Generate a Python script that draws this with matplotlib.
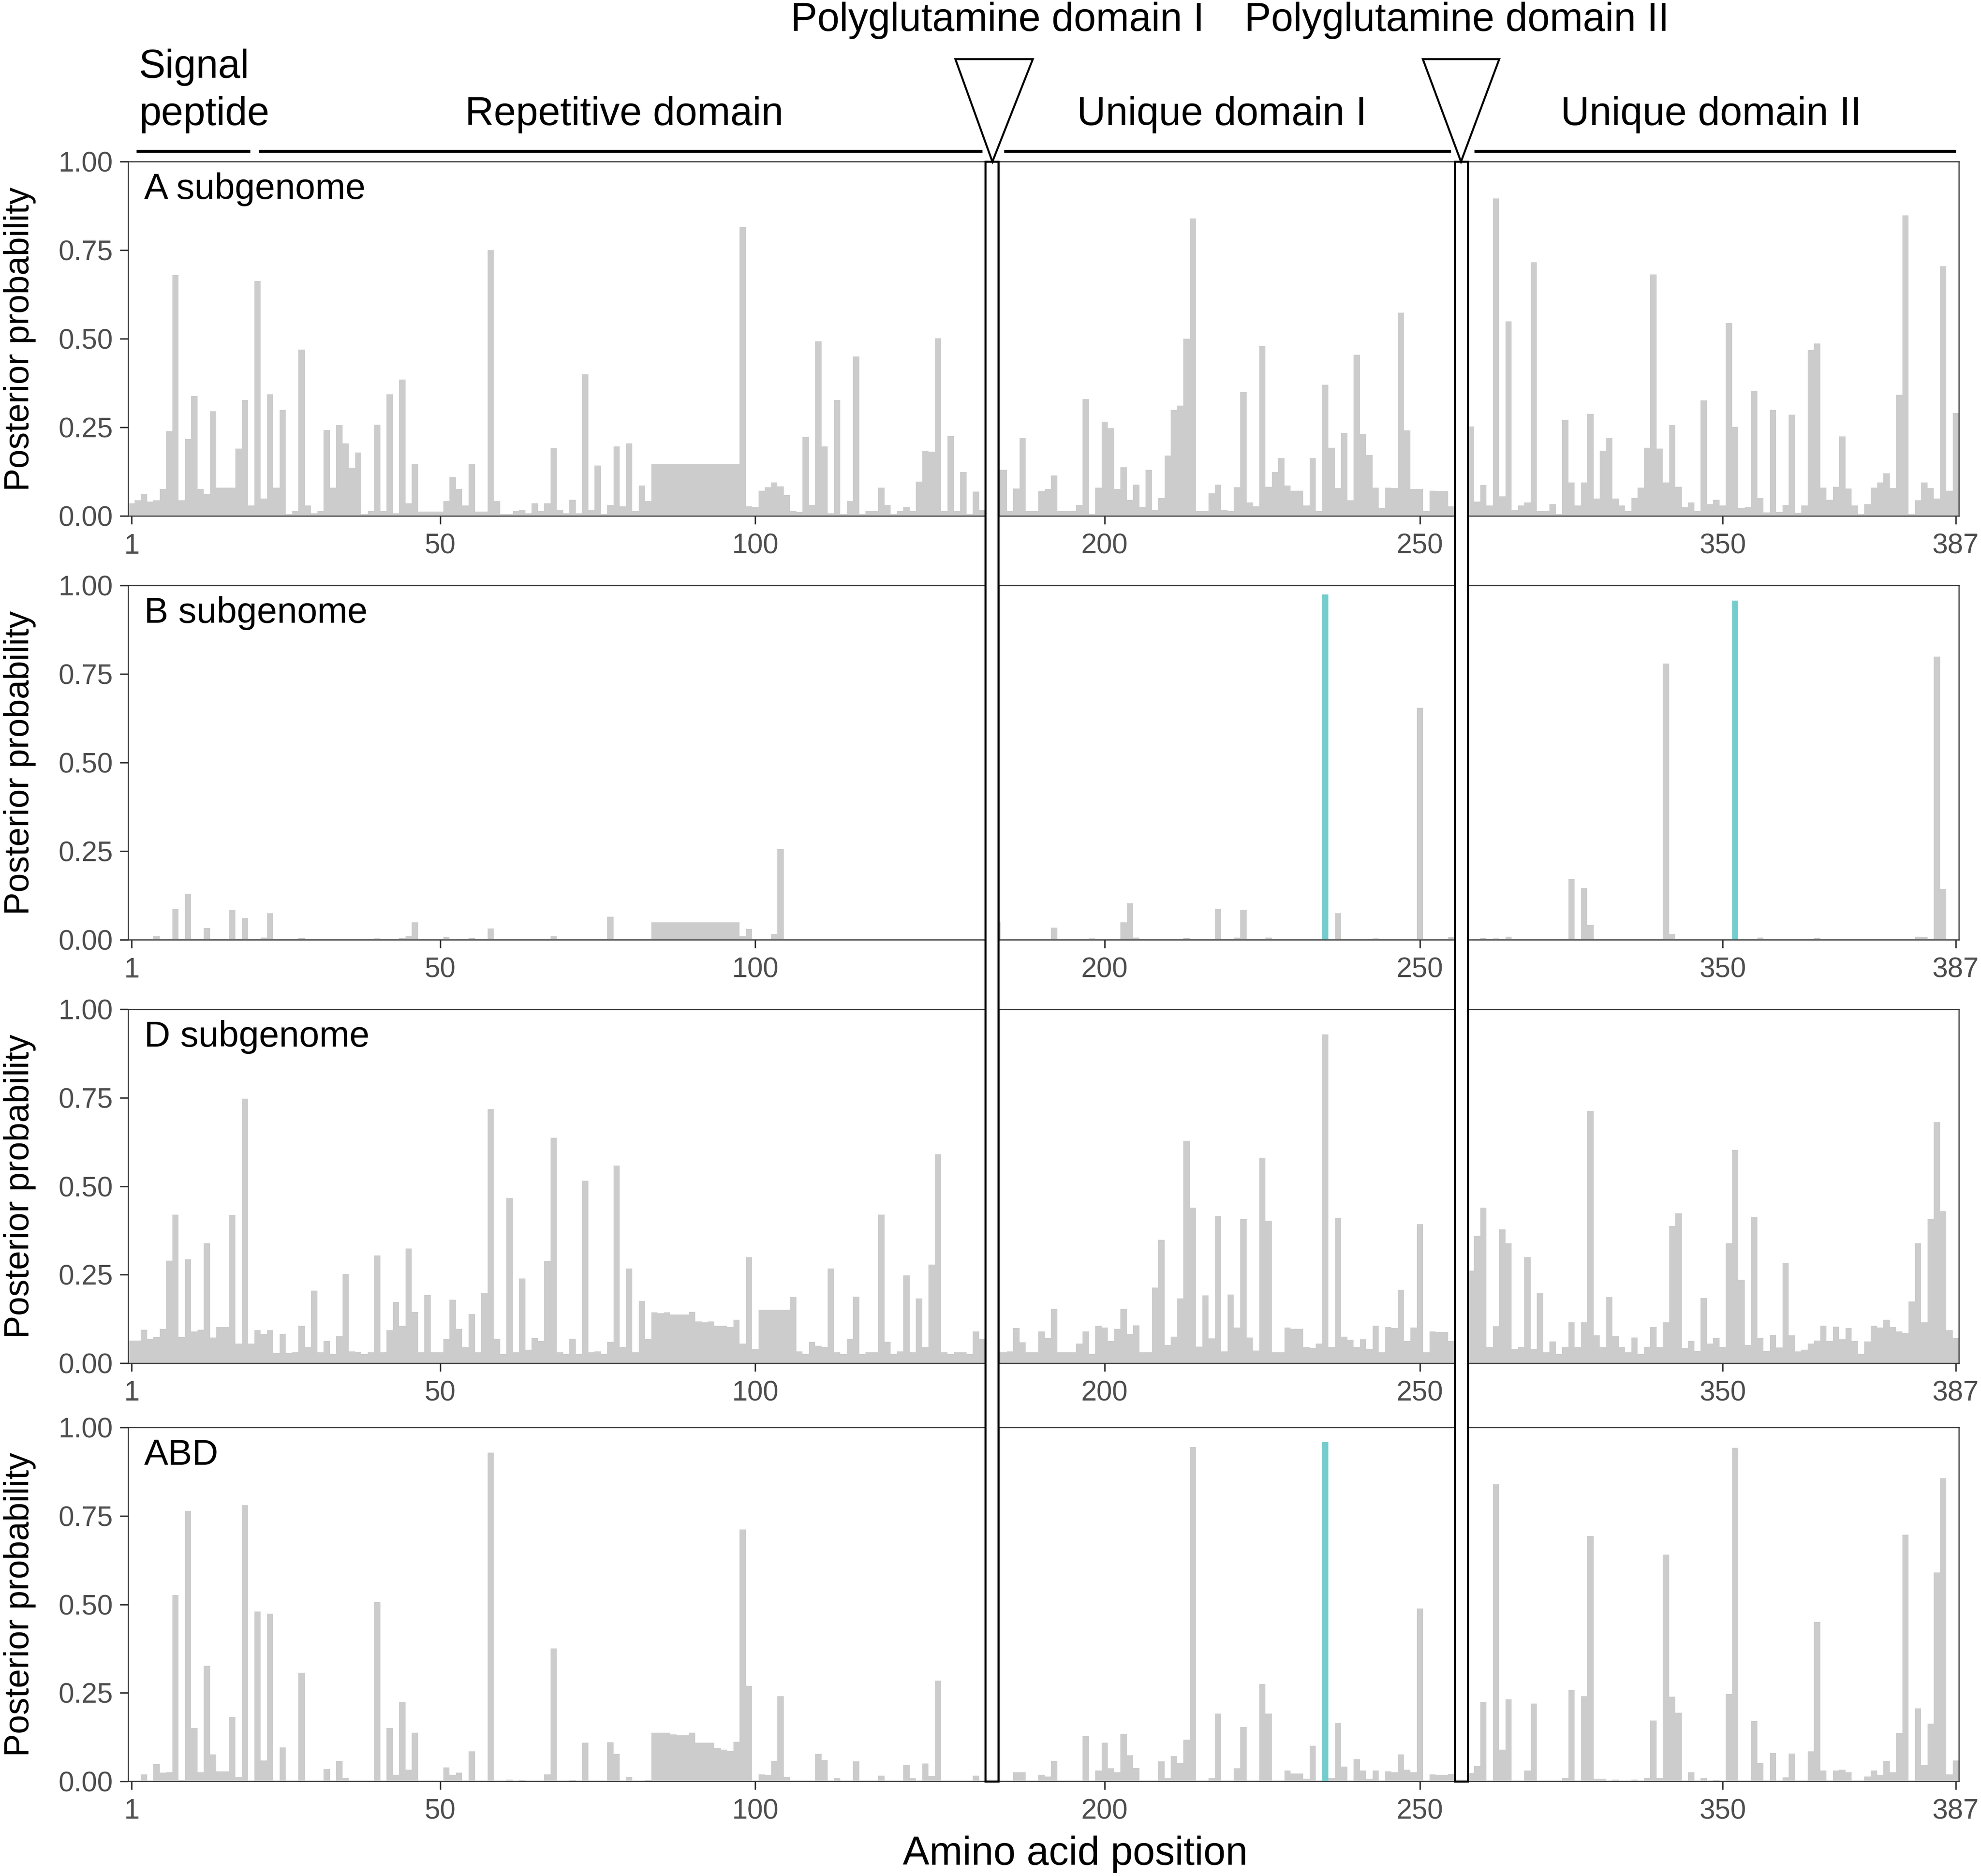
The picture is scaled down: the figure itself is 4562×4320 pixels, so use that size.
import matplotlib
matplotlib.use('Agg')
import matplotlib.pyplot as plt
from matplotlib.patches import Rectangle, Polygon
from matplotlib.lines import Line2D

plt.rcParams['font.family'] = ['Liberation Sans', 'DejaVu Sans']

# amino acid positions shown in the three segments (the polyQ stretches are cut out)
pos_rep = list(range(1, 137))
pos_u1 = list(range(183, 256))
pos_u2 = list(range(310, 388))

# posterior probabilities, A subgenome
a_rep = [0.036, 0.045, 0.062, 0.041, 0.045, 0.077, 0.24, 0.68, 0.045, 0.217,
         0.339, 0.077, 0.062, 0.296, 0.08, 0.08, 0.08, 0.19, 0.328, 0.03,
         0.664, 0.05, 0.343, 0.08, 0.30, 0.005, 0.014, 0.47, 0.03, 0.008,
         0.014, 0.243, 0.08, 0.256, 0.205, 0.136, 0.179, 0.005, 0.014, 0.258,
         0.014, 0.343, 0.008, 0.385, 0.036, 0.147, 0.013, 0.013, 0.013, 0.013,
         0.042, 0.11, 0.076, 0.03, 0.147, 0.013, 0.013, 0.75, 0.042, 0.005,
         0.005, 0.014, 0.018, 0.008, 0.036, 0.014, 0.036, 0.192, 0.018, 0.008,
         0.046, 0.008, 0.40, 0.018, 0.143, 0.005, 0.031, 0.197, 0.028, 0.205,
         0.014, 0.086, 0.042, 0.147, 0.147, 0.147, 0.147, 0.147, 0.147, 0.147,
         0.147, 0.147, 0.147, 0.147, 0.147, 0.147, 0.147, 0.816, 0.028, 0.025,
         0.072, 0.081, 0.095, 0.084, 0.059, 0.014, 0.012, 0.224, 0.031, 0.493,
         0.197, 0.008, 0.328, 0.005, 0.042, 0.45, 0.005, 0.014, 0.014, 0.08,
         0.031, 0.005, 0.014, 0.025, 0.014, 0.097, 0.184, 0.182, 0.502, 0.014,
         0.226, 0.014, 0.124, 0.005, 0.069, 0.018]
a_u1 = [0.13,
        0.13, 0.014, 0.078, 0.22, 0.014, 0.014, 0.07, 0.077, 0.115, 0.014,
        0.014, 0.014, 0.031, 0.33, 0.005, 0.08, 0.266, 0.248, 0.077, 0.138,
        0.046, 0.089, 0.026, 0.13, 0.018, 0.051, 0.171, 0.30, 0.312, 0.50,
        0.84, 0.014, 0.014, 0.064, 0.089, 0.018, 0.014, 0.081, 0.35, 0.039,
        0.028, 0.48, 0.082, 0.124, 0.164, 0.086, 0.072, 0.072, 0.03, 0.164,
        0.014, 0.37, 0.193, 0.079, 0.234, 0.045, 0.455, 0.232, 0.172, 0.08,
        0.023, 0.08, 0.079, 0.574, 0.242, 0.077, 0.076, 0.014, 0.072, 0.07,
        0.07, 0.028]
a_u2 = [0.253, 0.041, 0.088, 0.03, 0.896, 0.056, 0.549, 0.018, 0.03, 0.038,
        0.716, 0.014, 0.014, 0.033, 0.005, 0.271, 0.095, 0.03, 0.095, 0.288,
        0.049, 0.183, 0.22, 0.049, 0.03, 0.014, 0.051, 0.08, 0.193, 0.682,
        0.19, 0.095, 0.257, 0.082, 0.025, 0.038, 0.014, 0.326, 0.033, 0.046,
        0.03, 0.544, 0.252, 0.022, 0.026, 0.353, 0.051, 0.01, 0.30, 0.012,
        0.031, 0.286, 0.009, 0.03, 0.468, 0.487, 0.08, 0.046, 0.082, 0.225,
        0.078, 0.03, 0.005, 0.033, 0.08, 0.095, 0.12, 0.079, 0.342, 0.849,
        0.005, 0.044, 0.095, 0.079, 0.049, 0.705, 0.072, 0.291]

# B subgenome
b_rep = [0.003, 0.003, 0.003, 0.003, 0.011, 0.003, 0.003, 0.087, 0.003, 0.13,
         0.003, 0.003, 0.033, 0.003, 0.003, 0.003, 0.085, 0.003, 0.062, 0.003,
         0.003, 0.006, 0.075, 0.003, 0.003, 0.003, 0.003, 0.005, 0.003, 0.003,
         0.003, 0.003, 0.003, 0.003, 0.003, 0.003, 0.003, 0.003, 0.003, 0.004,
         0.003, 0.003, 0.003, 0.005, 0.01, 0.05, 0.003, 0.003, 0.003, 0.003,
         0.008, 0.003, 0.003, 0.003, 0.005, 0.003, 0.003, 0.032, 0.003, 0.003,
         0.003, 0.003, 0.003, 0.003, 0.003, 0.003, 0.003, 0.01, 0.003, 0.003,
         0.003, 0.003, 0.003, 0.003, 0.003, 0.003, 0.065, 0.003, 0.003, 0.003,
         0.003, 0.003, 0.003, 0.05, 0.05, 0.05, 0.05, 0.05, 0.05, 0.05,
         0.05, 0.05, 0.05, 0.05, 0.05, 0.05, 0.05, 0.01, 0.031, 0.003,
         0.003, 0.003, 0.016, 0.256, 0.003, 0.003, 0.003, 0.003, 0.003, 0.003,
         0.003, 0.003, 0.003, 0.003, 0.003, 0.003, 0.003, 0.003, 0.003, 0.003,
         0.003, 0.003, 0.003, 0.003, 0.003, 0.003, 0.003, 0.003, 0.003, 0.003,
         0.003, 0.003, 0.003, 0.003, 0.003, 0.003]
b_u1 = [0.05,
        0.003, 0.003, 0.003, 0.003, 0.003, 0.003, 0.003, 0.003, 0.035, 0.003,
        0.003, 0.003, 0.003, 0.003, 0.004, 0.003, 0.003, 0.003, 0.003, 0.05,
        0.103, 0.006, 0.003, 0.003, 0.003, 0.003, 0.003, 0.003, 0.003, 0.005,
        0.003, 0.003, 0.003, 0.003, 0.087, 0.003, 0.003, 0.007, 0.085, 0.003,
        0.003, 0.003, 0.006, 0.003, 0.003, 0.003, 0.003, 0.003, 0.003, 0.003,
        0.003, 0.975, 0.003, 0.075, 0.003, 0.003, 0.003, 0.003, 0.003, 0.004,
        0.003, 0.003, 0.003, 0.003, 0.003, 0.003, 0.655, 0.003, 0.003, 0.003,
        0.003, 0.008]
b_u2 = [0.003, 0.003, 0.005, 0.003, 0.004, 0.003, 0.009, 0.003, 0.003, 0.003,
        0.003, 0.003, 0.003, 0.003, 0.003, 0.003, 0.172, 0.003, 0.146, 0.042,
        0.003, 0.003, 0.003, 0.003, 0.003, 0.003, 0.003, 0.003, 0.003, 0.003,
        0.003, 0.78, 0.016, 0.003, 0.003, 0.003, 0.003, 0.003, 0.003, 0.003,
        0.003, 0.003, 0.958, 0.003, 0.003, 0.003, 0.006, 0.003, 0.003, 0.003,
        0.003, 0.003, 0.003, 0.003, 0.003, 0.005, 0.003, 0.003, 0.003, 0.003,
        0.003, 0.003, 0.003, 0.003, 0.003, 0.003, 0.003, 0.003, 0.003, 0.003,
        0.003, 0.009, 0.008, 0.003, 0.80, 0.144, 0.003, 0.003]

# D subgenome
d_rep = [0.064, 0.064, 0.095, 0.069, 0.074, 0.097, 0.29, 0.42, 0.074, 0.293,
         0.089, 0.094, 0.339, 0.072, 0.102, 0.102, 0.418, 0.055, 0.747, 0.055,
         0.093, 0.082, 0.093, 0.028, 0.082, 0.028, 0.03, 0.105, 0.045, 0.205,
         0.03, 0.063, 0.026, 0.076, 0.251, 0.033, 0.032, 0.026, 0.03, 0.304,
         0.03, 0.093, 0.173, 0.105, 0.324, 0.145, 0.03, 0.193, 0.031, 0.03,
         0.069, 0.179, 0.097, 0.045, 0.139, 0.03, 0.197, 0.718, 0.069, 0.026,
         0.466, 0.03, 0.239, 0.038, 0.071, 0.063, 0.288, 0.637, 0.03, 0.026,
         0.069, 0.026, 0.515, 0.03, 0.033, 0.026, 0.06, 0.558, 0.045, 0.268,
         0.03, 0.176, 0.069, 0.143, 0.141, 0.143, 0.138, 0.138, 0.137, 0.145,
         0.118, 0.115, 0.118, 0.105, 0.105, 0.102, 0.123, 0.055, 0.30, 0.041,
         0.151, 0.151, 0.151, 0.151, 0.151, 0.186, 0.033, 0.026, 0.06, 0.049,
         0.045, 0.268, 0.03, 0.026, 0.069, 0.188, 0.026, 0.03, 0.03, 0.42,
         0.06, 0.026, 0.033, 0.248, 0.03, 0.183, 0.045, 0.278, 0.59, 0.03,
         0.026, 0.03, 0.03, 0.026, 0.089, 0.069]
d_u1 = [0.03,
        0.03, 0.033, 0.099, 0.059, 0.03, 0.03, 0.089, 0.071, 0.153, 0.03,
        0.03, 0.03, 0.055, 0.089, 0.026, 0.105, 0.10, 0.063, 0.097, 0.153,
        0.082, 0.107, 0.03, 0.03, 0.214, 0.349, 0.051, 0.075, 0.183, 0.628,
        0.439, 0.046, 0.192, 0.07, 0.416, 0.033, 0.194, 0.10, 0.408, 0.072,
        0.036, 0.581, 0.403, 0.03, 0.03, 0.10, 0.097, 0.097, 0.045, 0.043,
        0.055, 0.929, 0.045, 0.41, 0.075, 0.066, 0.045, 0.067, 0.041, 0.105,
        0.03, 0.102, 0.099, 0.207, 0.063, 0.10, 0.393, 0.03, 0.09, 0.088,
        0.088, 0.063]
d_u2 = [0.261, 0.36, 0.44, 0.045, 0.104, 0.378, 0.339, 0.039, 0.045, 0.30,
        0.041, 0.197, 0.03, 0.061, 0.026, 0.045, 0.115, 0.045, 0.115, 0.713,
        0.079, 0.045, 0.186, 0.076, 0.045, 0.03, 0.072, 0.026, 0.045, 0.102,
        0.045, 0.115, 0.388, 0.423, 0.043, 0.063, 0.034, 0.184, 0.055, 0.071,
        0.045, 0.339, 0.603, 0.235, 0.051, 0.413, 0.071, 0.034, 0.08, 0.044,
        0.284, 0.079, 0.033, 0.038, 0.055, 0.064, 0.105, 0.063, 0.103, 0.068,
        0.099, 0.063, 0.026, 0.061, 0.105, 0.10, 0.123, 0.102, 0.089, 0.084,
        0.174, 0.339, 0.115, 0.407, 0.681, 0.43, 0.093, 0.071]

# ABD combined
abd_rep = [0.002, 0.002, 0.02, 0.002, 0.049, 0.024, 0.026, 0.526, 0.003, 0.763,
           0.151, 0.025, 0.326, 0.076, 0.028, 0.028, 0.182, 0.012, 0.781, 0.002,
           0.48, 0.059, 0.474, 0.002, 0.095, 0.002, 0.002, 0.307, 0.002, 0.002,
           0.002, 0.034, 0.002, 0.057, 0.01, 0.002, 0.002, 0.002, 0.002, 0.507,
           0.002, 0.151, 0.018, 0.224, 0.033, 0.137, 0.002, 0.002, 0.002, 0.002,
           0.039, 0.018, 0.024, 0.002, 0.084, 0.002, 0.002, 0.929, 0.002, 0.002,
           0.005, 0.002, 0.003, 0.002, 0.002, 0.002, 0.02, 0.376, 0.002, 0.002,
           0.003, 0.002, 0.109, 0.002, 0.002, 0.002, 0.11, 0.077, 0.002, 0.0125,
           0.002, 0.002, 0.003, 0.137, 0.137, 0.137, 0.132, 0.13, 0.13, 0.137,
           0.109, 0.109, 0.109, 0.094, 0.09, 0.086, 0.112, 0.712, 0.27, 0.002,
           0.02, 0.018, 0.057, 0.24, 0.012, 0.002, 0.002, 0.002, 0.002, 0.077,
           0.06, 0.002, 0.008, 0.002, 0.002, 0.056, 0.002, 0.002, 0.002, 0.016,
           0.002, 0.002, 0.002, 0.047, 0.008, 0.002, 0.05, 0.015, 0.285, 0.002,
           0.002, 0.002, 0.002, 0.002, 0.016, 0.002]
abd_u1 = [0.002,
          0.002, 0.002, 0.025, 0.025, 0.002, 0.002, 0.018, 0.013, 0.058, 0.002,
          0.002, 0.002, 0.002, 0.128, 0.002, 0.03, 0.109, 0.036, 0.025, 0.134,
          0.074, 0.0375, 0.002, 0.002, 0.002, 0.056, 0.009, 0.071, 0.051, 0.118,
          0.945, 0.002, 0.002, 0.009, 0.191, 0.002, 0.002, 0.036, 0.153, 0.002,
          0.002, 0.275, 0.191, 0.002, 0.002, 0.03, 0.022, 0.022, 0.007, 0.10,
          0.002, 0.959, 0.01, 0.166, 0.041, 0.002, 0.0625, 0.03, 0.007, 0.03,
          0.002, 0.028, 0.025, 0.076, 0.033, 0.025, 0.489, 0.002, 0.02, 0.018,
          0.018, 0.021]
abd_u2 = [0.023, 0.043, 0.224, 0.002, 0.84, 0.089, 0.232, 0.002, 0.002, 0.03,
          0.22, 0.002, 0.002, 0.002, 0.002, 0.009, 0.258, 0.002, 0.241, 0.693,
          0.007, 0.007, 0.002, 0.005, 0.002, 0.002, 0.005, 0.002, 0.009, 0.172,
          0.009, 0.641, 0.239, 0.194, 0.002, 0.026, 0.002, 0.009, 0.002, 0.004,
          0.002, 0.247, 0.943, 0.002, 0.002, 0.171, 0.051, 0.002, 0.079, 0.002,
          0.011, 0.078, 0.002, 0.002, 0.084, 0.45, 0.03, 0.002, 0.03, 0.033,
          0.025, 0.002, 0.002, 0.013, 0.03, 0.018, 0.057, 0.025, 0.136, 0.697,
          0.002, 0.206, 0.046, 0.1625, 0.59, 0.857, 0.02, 0.059]

panel_names = ['A subgenome', 'B subgenome', 'D subgenome', 'ABD']
panel_values = [[a_rep, a_u1, a_u2],
                [b_rep, b_u1, b_u2],
                [d_rep, d_u1, d_u2],
                [abd_rep, abd_u1, abd_u2]]
seg_positions = [pos_rep, pos_u1, pos_u2]
seg_ticks = [[1, 50, 100], [200, 250], [350, 387]]
seg_limits = [(0.5, 136.5), (183.2, 255.5), (309.5, 387.5)]

GREY = '#CCCCCC'
TEAL = '#74CDCD'
BEB_CUT = 0.95   # sites above this are highlighted

# layout measured on a 1568 x 1485 grid of the reference
W, H = 1568.0, 1485.0
seg_x = [(101.5, 779.9), (790.5, 1151.3), (1161.6, 1550.5)]
row_y = [(128, 408.5), (463.5, 744), (799, 1079), (1130, 1410)]


def fx(x):
    return x / W


def fy(y):
    return 1 - y / H


fig = plt.figure(figsize=(4562 / 300, 4320 / 300), dpi=300)

for r, name in enumerate(panel_names):
    y0, y1 = row_y[r]
    for s in range(3):
        x0, x1 = seg_x[s]
        ax = fig.add_axes([fx(x0), fy(y1), (x1 - x0) / W, (y1 - y0) / H])
        vals = panel_values[r][s]
        cols = [TEAL if v >= BEB_CUT else GREY for v in vals]
        ax.bar(seg_positions[s], vals, width=1.0, color=cols, linewidth=0)
        ax.set_xlim(seg_limits[s])
        ax.set_ylim(0, 1)
        ax.set_xticks(seg_ticks[s])
        ax.set_yticks([0, 0.25, 0.5, 0.75, 1.0])
        ax.set_yticklabels(['0.00', '0.25', '0.50', '0.75', '1.00'])
        for sp in ax.spines.values():
            sp.set_color('#333333')
            sp.set_linewidth(0.6)
        ax.tick_params(axis='both', direction='out', length=4.5, width=0.8,
                       color='#333333', labelcolor='#4D4D4D', labelsize=15.5)
        ax.tick_params(axis='x', pad=5)
        ax.tick_params(axis='y', pad=4)
        if s > 0:
            ax.tick_params(axis='y', left=False, labelleft=False)
        else:
            ax.text(0.0184, 0.895, name, transform=ax.transAxes,
                    fontsize=20, va='baseline', ha='left', color='black')
    fig.text(fx(15.5), fy((y0 + y1) / 2), 'Posterior probability', rotation=90,
             ha='center', va='center', fontsize=19)

# polyglutamine boxes spanning all rows, with the triangles above
for bx0, bx1, tx0, tx1, tip in [(779.9, 790.3, 756.2, 817.5, 785.5),
                                (1151.3, 1161.6, 1126.2, 1186.7, 1156.4)]:
    fig.add_artist(Rectangle((fx(bx0), fy(1410)), (bx1 - bx0) / W, (1410 - 128) / H,
                             transform=fig.transFigure, facecolor='white',
                             edgecolor='black', linewidth=1.1, zorder=10))
    fig.add_artist(Polygon([(fx(tx0), fy(46.8)), (fx(tx1), fy(46.8)), (fx(tip), fy(128))],
                           closed=True, transform=fig.transFigure, facecolor='white',
                           edgecolor='black', linewidth=1.1, zorder=11))

# domain header lines
for lx0, lx1 in [(108, 198), (205, 777.6), (794.8, 1148.2), (1166.8, 1548)]:
    fig.add_artist(Line2D([fx(lx0), fx(lx1)], [fy(119.7), fy(119.7)],
                          transform=fig.transFigure, color='black', linewidth=1.6,
                          solid_capstyle='butt', zorder=9))

hdr = dict(fontsize=22, va='baseline', color='black')
fig.text(fx(110), fy(61.5), 'Signal', ha='left', **hdr)
fig.text(fx(110), fy(99), 'peptide', ha='left', **hdr)
fig.text(fx(494), fy(99), 'Repetitive domain', ha='center', **hdr)
fig.text(fx(967), fy(99), 'Unique domain I', ha='center', **hdr)
fig.text(fx(1354.5), fy(99), 'Unique domain II', ha='center', **hdr)
fig.text(fx(789.5), fy(24.4), 'Polyglutamine domain I', ha='center', **hdr)
fig.text(fx(1153), fy(24.4), 'Polyglutamine domain II', ha='center', **hdr)

fig.text(fx(851), fy(1476), 'Amino acid position', ha='center', va='baseline',
         fontsize=22)

fig.savefig('out.png', dpi=300)
plt.close(fig)
